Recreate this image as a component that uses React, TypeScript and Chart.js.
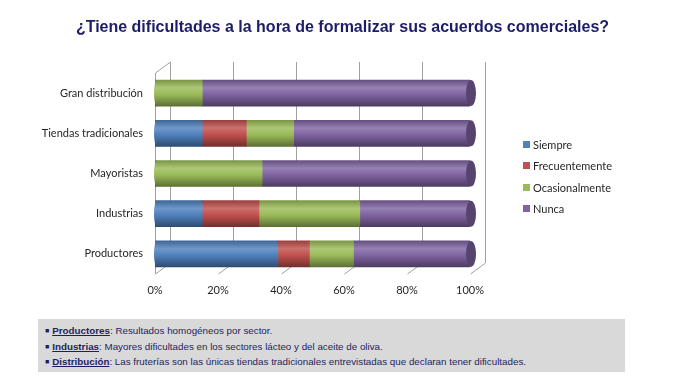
import React, { useEffect, useRef } from "react";
import { Chart, registerables } from "chart.js";

Chart.register(...registerables);

const chartTitle = "¿Tiene dificultades a la hora de formalizar sus acuerdos comerciales?";
const categories = ["Gran distribución", "Tiendas tradicionales", "Mayoristas", "Industrias", "Productores"];
const seriesNames = ["Siempre", "Frecuentemente", "Ocasionalmente", "Nunca"];
const siempre = [0, 15, 0, 15, 39];
const frecuentemente = [0, 14, 0, 18, 10];
const ocasionalmente = [15, 15, 34, 32, 14];
const nunca = [85, 56, 66, 35, 37];
const xTicks = [0, 20, 40, 60, 80, 100];
const seriesColors = ["#4f81bd", "#c0504d", "#9bbb59", "#8064a2"];
const notes = [
  { label: "Productores", text: ": Resultados homogéneos por sector." },
  { label: "Industrias", text: ": Mayores dificultades en los sectores lácteo y del aceite de oliva." },
  { label: "Distribución", text: ": Las fruterías son las únicas tiendas tradicionales entrevistadas que declaran tener dificultades." },
];

function shade(hex: string, f: number): string {
  const n = parseInt(hex.slice(1), 16);
  let r = (n >> 16) & 255, g = (n >> 8) & 255, b = n & 255;
  if (f >= 0) {
    r = r + (255 - r) * f; g = g + (255 - g) * f; b = b + (255 - b) * f;
  } else {
    r = r * (1 + f); g = g * (1 + f); b = b * (1 + f);
  }
  return `rgb(${Math.round(r)},${Math.round(g)},${Math.round(b)})`;
}

function cylGradient(chart: any, y: number, h: number, color: string) {
  const g = chart.ctx.createLinearGradient(0, y - h / 2, 0, y + h / 2);
  g.addColorStop(0, shade(color, -0.2));
  g.addColorStop(0.3, shade(color, 0.18));
  g.addColorStop(0.55, color);
  g.addColorStop(1, shade(color, -0.4));
  return g;
}

const BAR_T = 26;

const bgFor = (color: string) => (ctx: any) => {
  const chart = ctx.chart;
  const ys = chart.scales && chart.scales.y;
  if (!ys || ctx.dataIndex === undefined) return color;
  const y = ys.getPixelForValue(ctx.dataIndex);
  if (!Number.isFinite(y)) return color;
  return cylGradient(chart, y, BAR_T, color);
};

const wallPlugin = {
  id: "wall3d",
  beforeDatasetsDraw(chart: any) {
    const { ctx, chartArea: a, scales } = chart;
    const xs = scales.x;
    const dx = 15, dy = -11;
    ctx.save();
    ctx.strokeStyle = "#a0a0a0";
    ctx.lineWidth = 1;
    ctx.beginPath();
    for (const v of xTicks) {
      const px = Math.round(xs.getPixelForValue(v)) + 0.5;
      ctx.moveTo(px + dx, a.top + dy);
      ctx.lineTo(px + dx, a.bottom + dy);
      ctx.moveTo(px, a.bottom);
      ctx.lineTo(px + dx, a.bottom + dy);
    }
    const lx = Math.round(a.left) + 0.5;
    ctx.moveTo(lx, a.top);
    ctx.lineTo(lx, a.bottom);
    ctx.moveTo(lx, a.top);
    ctx.lineTo(lx + dx, a.top + dy);
    ctx.stroke();
    ctx.restore();
  },
  afterDatasetsDraw(chart: any) {
    const { ctx } = chart;
    const n = chart.data.labels.length;
    const dsCount = chart.data.datasets.length;
    ctx.save();
    for (let i = 0; i < n; i++) {
      for (let d = 0; d < dsCount; d++) {
        const v = chart.data.datasets[d].data[i];
        if (v > 0) {
          const el: any = chart.getDatasetMeta(d).data[i];
          const h = el.height;
          ctx.beginPath();
          ctx.ellipse(el.base + 2, el.y, 3, h / 2, 0, Math.PI / 2, (3 * Math.PI) / 2);
          ctx.closePath();
          ctx.fillStyle = cylGradient(chart, el.y, h, seriesColors[d]);
          ctx.fill();
          break;
        }
      }
      for (let d = dsCount - 1; d >= 0; d--) {
        const v = chart.data.datasets[d].data[i];
        if (v > 0) {
          const el: any = chart.getDatasetMeta(d).data[i];
          const h = el.height;
          ctx.beginPath();
          ctx.ellipse(el.x + 1, el.y, 5, h / 2, 0, 0, Math.PI * 2);
          ctx.fillStyle = shade(seriesColors[d], -0.32);
          ctx.fill();
          break;
        }
      }
    }
    ctx.restore();
  },
};

export default function App() {
  const ref = useRef<HTMLCanvasElement | null>(null);

  useEffect(() => {
    if (!ref.current) return;
    const seriesData = [siempre, frecuentemente, ocasionalmente, nunca];
    const chart = new Chart(ref.current, {
      type: "bar",
      data: {
        labels: categories,
        datasets: seriesNames.map((name, i) => ({
          label: name,
          data: seriesData[i],
          backgroundColor: bgFor(seriesColors[i]),
          borderWidth: 0,
          barThickness: BAR_T,
        })),
      },
      options: {
        indexAxis: "y",
        animation: false,
        responsive: false,
        maintainAspectRatio: false,
        layout: { padding: { left: 0, right: 215, top: 73, bottom: 83 } },
        plugins: {
          legend: { display: false },
          title: { display: false },
          tooltip: { enabled: false },
        },
        scales: {
          x: {
            stacked: true,
            min: 0,
            max: 100,
            afterFit: (s: any) => { s.height = 30; },
            afterBuildTicks: (s: any) => { s.ticks = xTicks.map((v) => ({ value: v })); },
            ticks: {
              callback: (v: any) => v + "%",
              font: { family: "Lato", size: 11 },
              color: "#262626",
              padding: 10,
            },
            grid: { display: false, drawTicks: false },
            border: { display: false },
          },
          y: {
            stacked: true,
            afterFit: (s: any) => { s.width = 155; },
            ticks: {
              font: { family: "Lato", size: 11 },
              color: "#262626",
              padding: 12,
            },
            grid: { display: false, drawTicks: false },
            border: { display: false },
          },
        },
      },
      plugins: [wallPlugin],
    } as any);
    return () => chart.destroy();
  }, []);

  return (
    <div style={{ position: "absolute", left: 0, top: 0, width: 685, height: 387, background: "#ffffff", overflow: "hidden" }}>
      <canvas ref={ref} width={685} height={387} style={{ position: "absolute", left: 0, top: 0, width: 685, height: 387 }} />
      <div
        style={{
          position: "absolute", left: 0, top: 17, width: 685, textAlign: "center",
          fontFamily: "'Liberation Sans', Arial, sans-serif", fontWeight: "bold", fontSize: 16,
          color: "#1c1c68", lineHeight: "20px",
        }}
      >
        {chartTitle}
      </div>
      {seriesNames.map((name, i) => (
        <div
          key={name}
          style={{
            position: "absolute", left: 523, top: 137 + i * 21.5, height: 14, display: "flex", alignItems: "center",
            fontFamily: "Lato, sans-serif", fontSize: 11, color: "#262626", whiteSpace: "nowrap",
          }}
        >
          <span style={{ display: "inline-block", width: 7, height: 7, background: seriesColors[i], marginRight: 3 }} />
          {name}
        </div>
      ))}
      <div
        style={{
          position: "absolute", left: 38, top: 319, width: 587, height: 53, background: "#d9d9d9",
          fontFamily: "'Liberation Sans', Arial, sans-serif", fontSize: 9.8, color: "#1f1f5e",
        }}
      >
        {notes.map((n, i) => (
          <div key={n.label} style={{ position: "absolute", left: 7, top: 5 + i * 15.5, lineHeight: "14px", whiteSpace: "nowrap" }}>
            <span style={{ fontSize: 7, marginRight: 3, position: "relative", top: -1 }}>■</span>
            <span style={{ fontWeight: "bold", textDecoration: "underline" }}>{n.label}</span>
            {n.text}
          </div>
        ))}
      </div>
    </div>
  );
}
